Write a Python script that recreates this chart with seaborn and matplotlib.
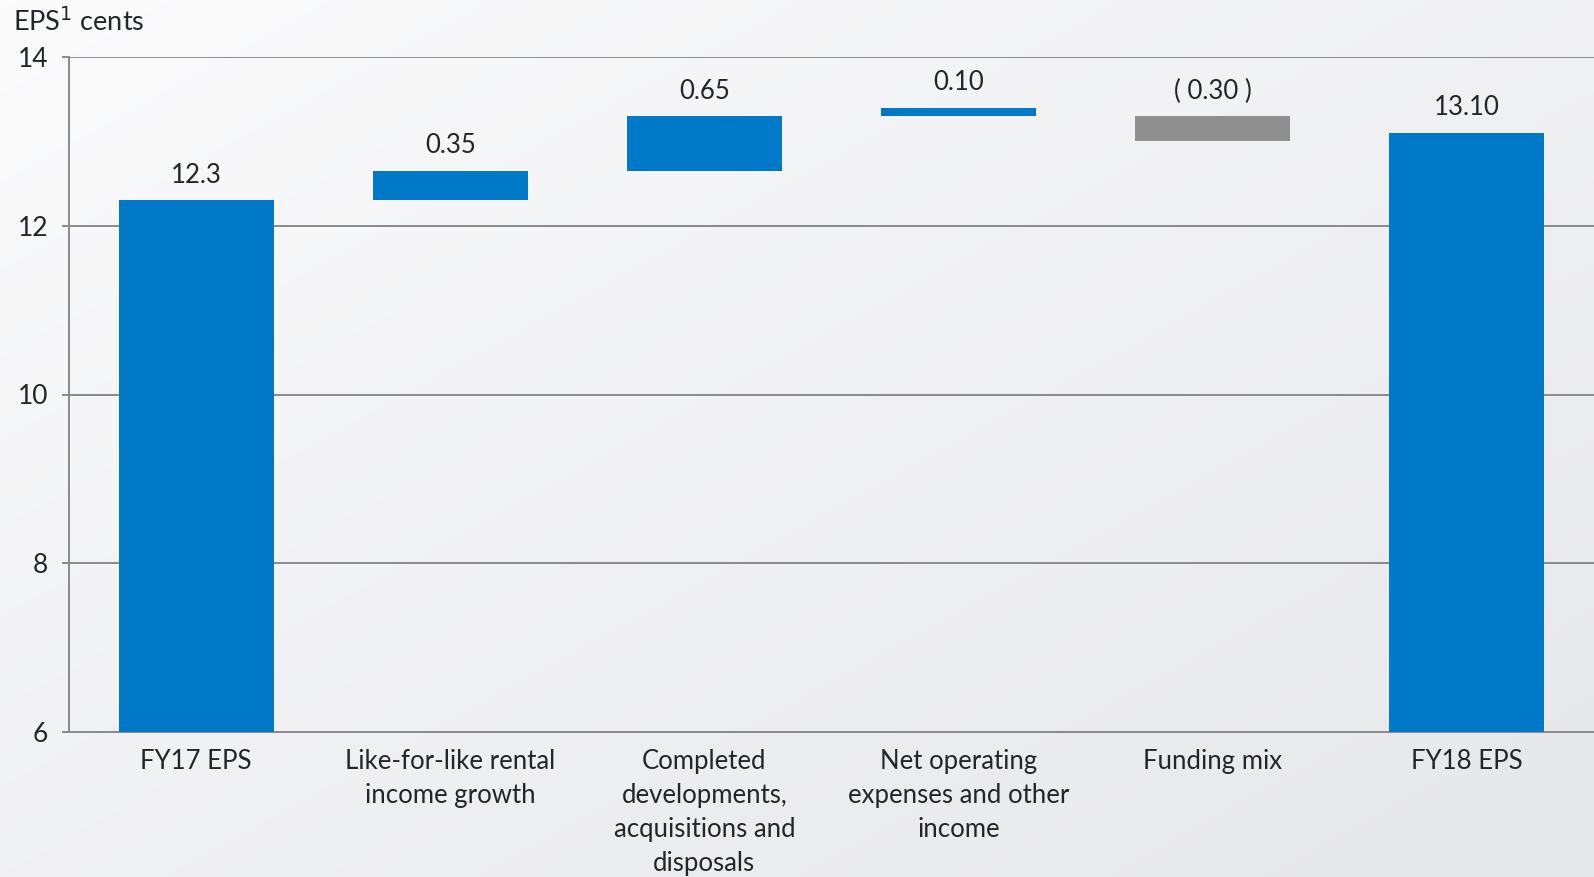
import numpy as np
import pandas as pd
import matplotlib
matplotlib.use('Agg')
import matplotlib.pyplot as plt
import seaborn as sns

# Waterfall values
categories = ['FY17 EPS', 'Like-for-like rental\nincome growth',
              'Completed\ndevelopments,\nacquisitions and\ndisposals',
              'Net operating\nexpenses and other\nincome',
              'Funding mix', 'FY18 EPS']
heights = [12.3, 0.35, 0.65, 0.10, 0.30, 13.10]
bottoms = [0.0, 12.30, 12.65, 13.30, 13.00, 0.0]
value_labels = ['12.3', '0.35', '0.65', '0.10', '( 0.30 )', '13.10']
bar_colors = ['#0079C8', '#0079C8', '#0079C8', '#0079C8', '#8E8F8E', '#0079C8']
yticks = [6, 8, 10, 12, 14]

sns.set_theme(style='white')
plt.rcParams['font.family'] = ['Lato', 'DejaVu Sans']
text_color = '#22262b'
line_color = '#8a8a8a'

fig = plt.figure(figsize=(15.94, 8.77), dpi=100)

# light gradient background
bg = fig.add_axes([0, 0, 1, 1], zorder=-10)
gx, gy = np.meshgrid(np.linspace(0, 1, 200), np.linspace(0, 1, 200))
grad = 0.5 * gx + 0.5 * gy
bg.imshow(grad, cmap=matplotlib.colors.LinearSegmentedColormap.from_list(
    'bg', ['#fbfbfc', '#e6e7ea']), aspect='auto', extent=[0, 1, 0, 1])
bg.axis('off')

ax = fig.add_axes([69 / 1594, 1 - 732 / 877, 1 - 69 / 1594, (732 - 57) / 877])
ax.patch.set_alpha(0)

df = pd.DataFrame({'category': categories, 'height': heights})
sns.barplot(data=df, x='category', y='height', hue='category',
            palette=bar_colors, width=0.61, legend=False, ax=ax,
            saturation=1, zorder=3, linewidth=0, edgecolor='none')

for patch, b, lab in zip(ax.patches, bottoms, value_labels):
    patch.set_y(b)
    top = b + patch.get_height()
    ax.annotate(lab, (patch.get_x() + patch.get_width() / 2, top),
                xytext=(0, 9), textcoords='offset points',
                ha='center', va='bottom', fontsize=18.5, color=text_color)

ax.set_ylim(6, 14)
ax.set_xlim(-0.5, 5.5)
ax.set_yticks(yticks)
ax.set_yticklabels([str(t) for t in yticks], fontsize=19, color=text_color)
for t in yticks[1:]:
    ax.axhline(t, color=line_color, lw=1.4, zorder=1)

ax.set_xticks(range(len(categories)))
ax.set_xticklabels(categories, fontsize=18.5, color=text_color, linespacing=1.45)
ax.set_xticks(np.arange(-0.5, 6, 1), minor=True)
ax.tick_params(axis='x', which='major', length=0, pad=12)
ax.tick_params(axis='x', which='minor', length=7, width=1.4, color=line_color, direction='out')
ax.tick_params(axis='y', length=5, width=1.4, color=line_color, direction='out', left=True, pad=10)
ax.set_xlabel('')
ax.set_ylabel('')

for side in ['top', 'right']:
    ax.spines[side].set_visible(False)
for side in ['left', 'bottom']:
    ax.spines[side].set_color(line_color)
    ax.spines[side].set_linewidth(1.4)

fig.text(13 / 1594, 1 - 22 / 877, 'EPS$^{1}$ cents', fontsize=19.5, color=text_color,
         ha='left', va='center')

fig.savefig('out.png', dpi=100)
